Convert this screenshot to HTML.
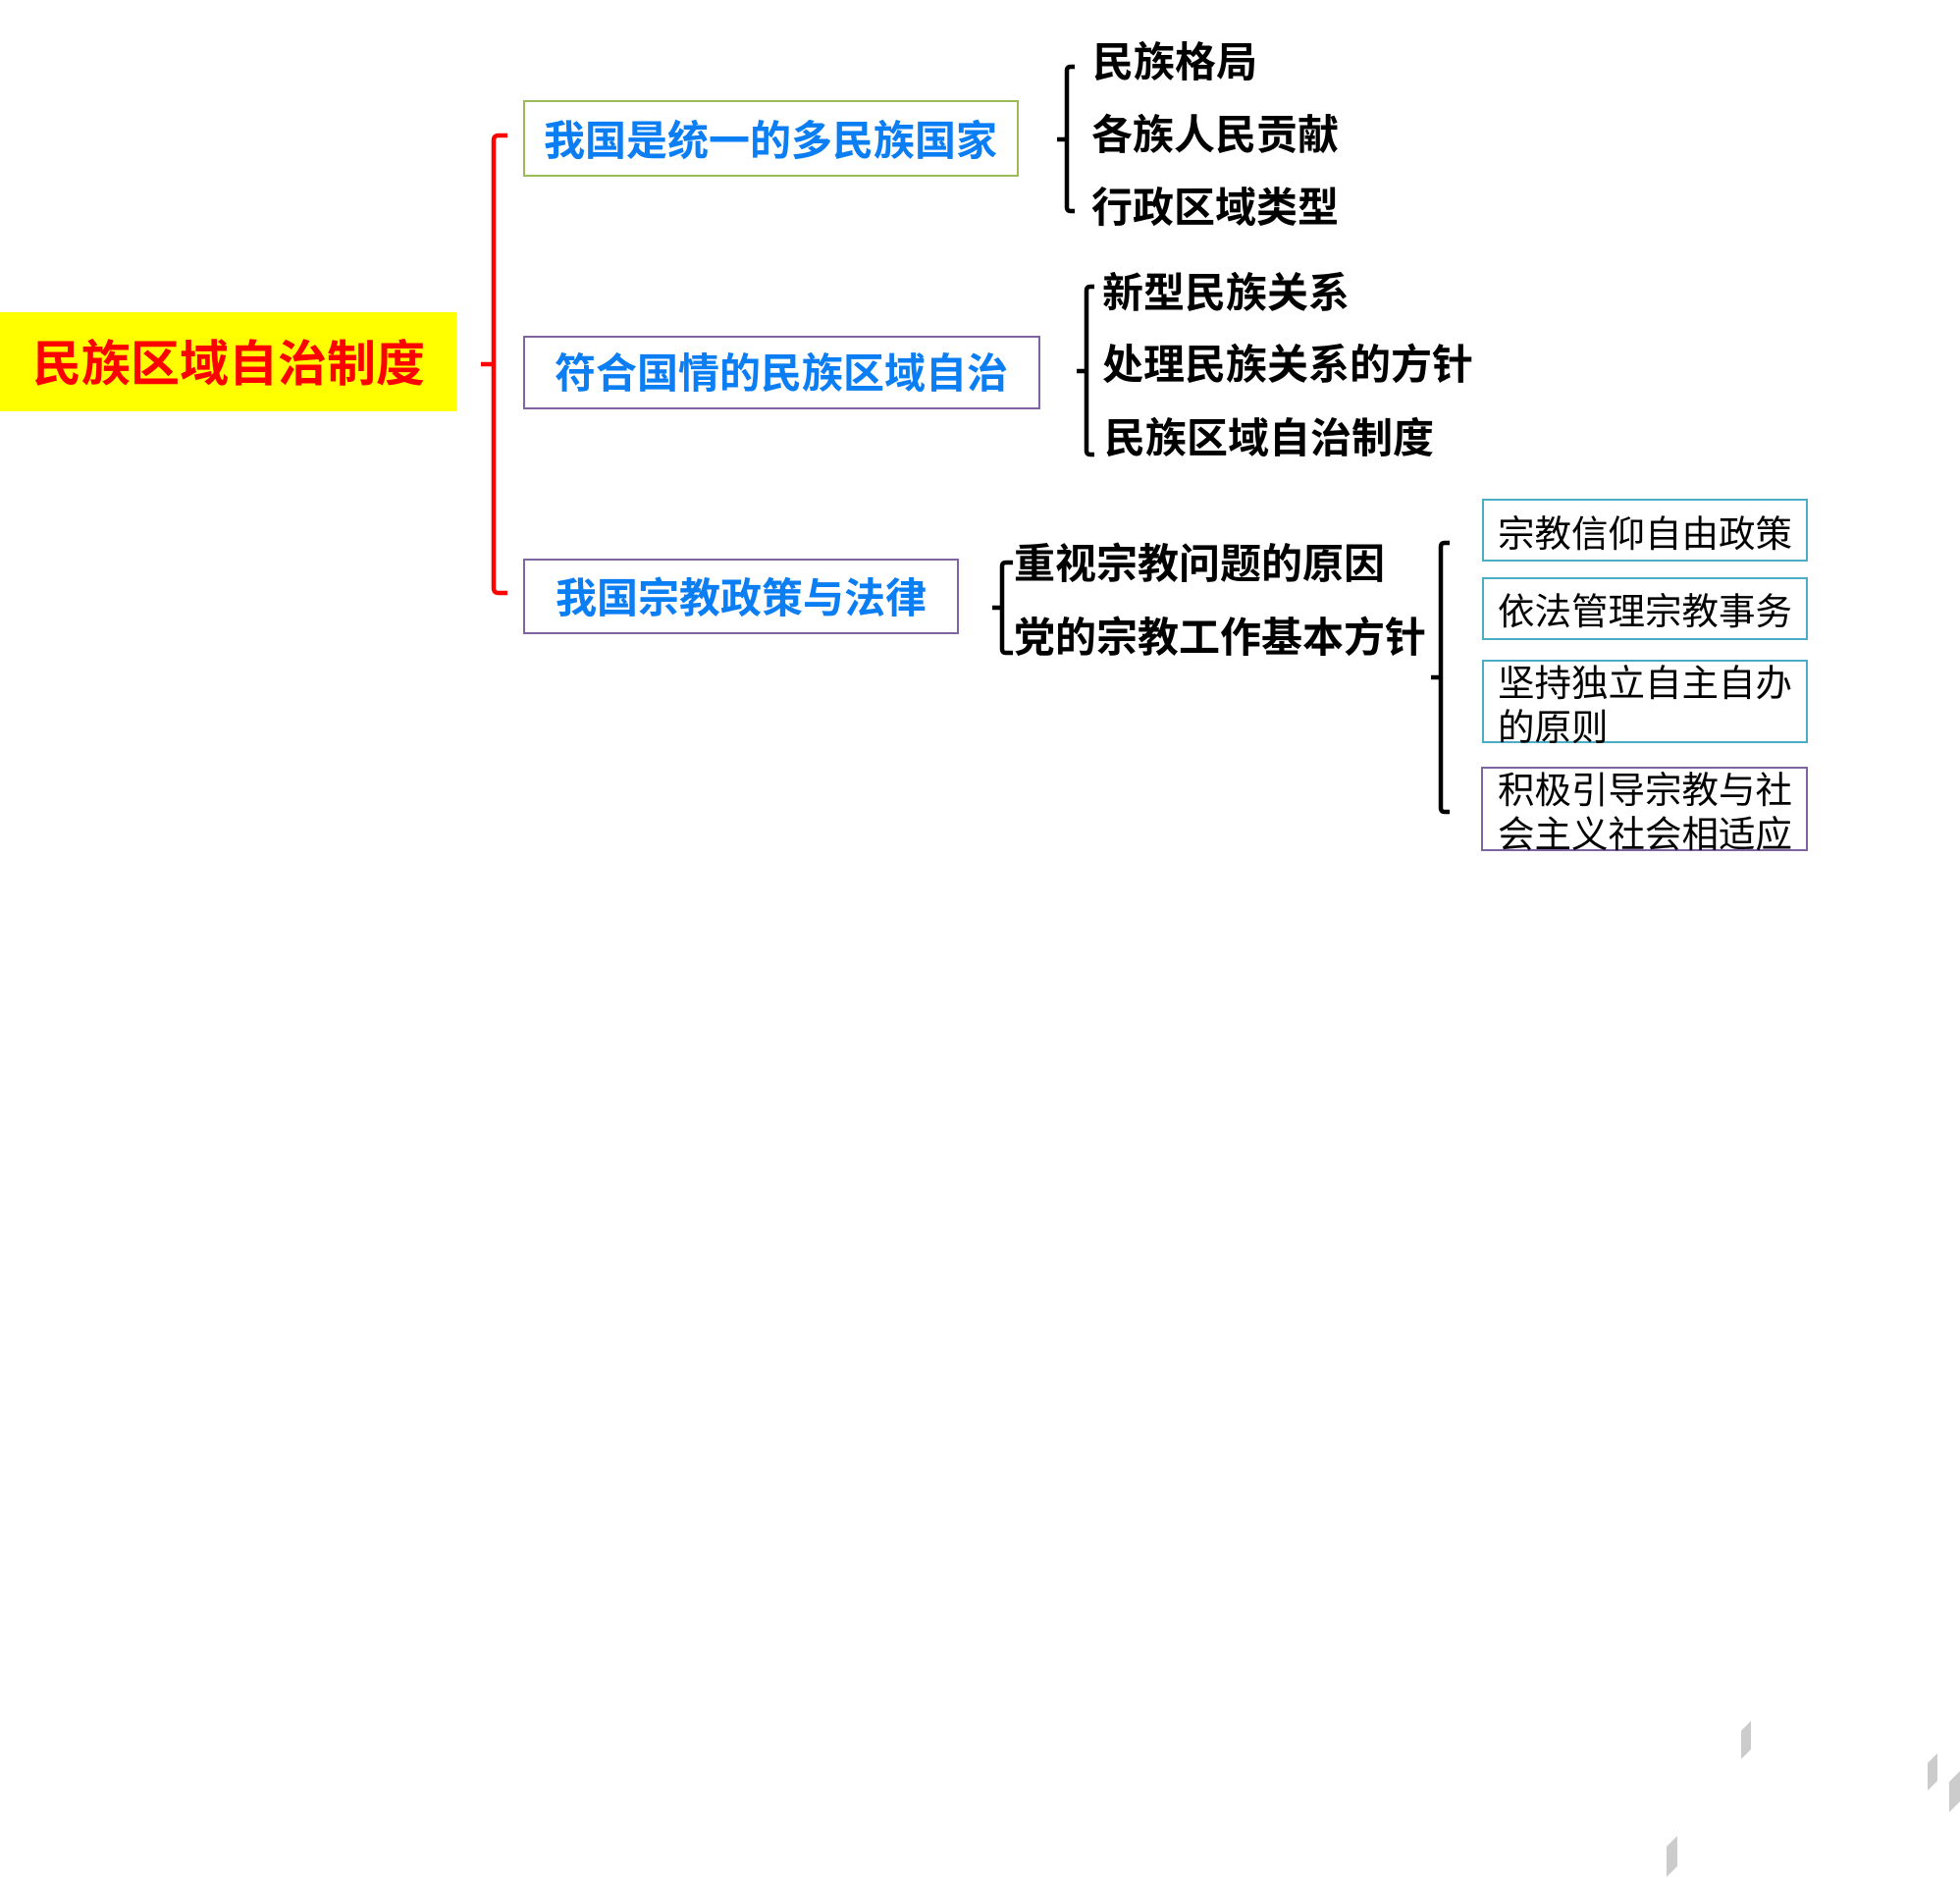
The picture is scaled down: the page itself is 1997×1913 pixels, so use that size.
<!DOCTYPE html>
<html>
<head>
<meta charset="utf-8">
<style>
  html, body { margin:0; padding:0; background:#fff; }
  body { width:1997px; height:1913px; position:relative; overflow:hidden;
         font-family:"Liberation Sans","Noto Sans CJK SC",sans-serif; }
  .t { position:absolute; white-space:nowrap; }
  .b42 { font-size:42px; line-height:42px; font-weight:700; color:#000; }
  .blue { color:#0b7ef3; font-weight:700; }
  .box { position:absolute; box-sizing:border-box; border:2px solid; background:transparent; }
  .sm { font-size:37.5px; line-height:45px; font-weight:400; color:#000; }
  svg { position:absolute; left:0; top:0; }
</style>
</head>
<body>
<div style="position:absolute;left:0;top:318px;width:465px;height:101px;background:#ffff00;"></div>
<div class="t" style="left:33px;top:346px;font-size:50px;line-height:50px;font-weight:700;color:#ff0000;">民族区域自治制度</div>

<svg width="1997" height="1913" viewBox="0 0 1997 1913">
  <g fill="none" stroke-linecap="butt" stroke-linejoin="round">
    <path d="M517,138 L508,138 Q503,138 503,143 L503,599 Q503,604 508,604 L517,604" stroke="#ff0000" stroke-width="4.5"/>
    <path d="M490,371 L503,371" stroke="#ff0000" stroke-width="4.5"/>

    <path d="M1095,68 L1091,68 Q1087,68 1087,72 L1087,211 Q1087,215 1091,215 L1095,215" stroke="#000" stroke-width="4.5"/>
    <path d="M1077,142 L1087,142" stroke="#000" stroke-width="4.5"/>

    <path d="M1115,292 L1111,292 Q1107,292 1107,296 L1107,459 Q1107,463 1111,463 L1115,463" stroke="#000" stroke-width="4.5"/>
    <path d="M1097,378 L1107,378" stroke="#000" stroke-width="4.5"/>

    <path d="M1032,573 L1025,573 Q1021,573 1021,577 L1021,661 Q1021,665 1025,665 L1032,665" stroke="#000" stroke-width="4.5"/>
    <path d="M1011,619 L1021,619" stroke="#000" stroke-width="4.5"/>

    <path d="M1477,553 L1472,553 Q1468,553 1468,557 L1468,823 Q1468,827 1472,827 L1477,827" stroke="#000" stroke-width="4.5"/>
    <path d="M1458,690 L1468,690" stroke="#000" stroke-width="4.5"/>
  </g>
  <g fill="#cccccc">
    <polygon points="1774,1763 1784,1753 1784,1782 1774,1792"/>
    <polygon points="1964,1796 1974,1786 1974,1814 1964,1824"/>
    <polygon points="1986,1815 1997,1804 1997,1835 1986,1846"/>
    <polygon points="1698,1881 1709,1870 1709,1901 1698,1912"/>
  </g>
</svg>

<div class="box" style="left:533px;top:102px;width:505px;height:78px;border-color:#9bbb59;"></div>
<div class="t blue" style="left:554px;top:123px;font-size:42px;line-height:42px;">我国是统一的多民族国家</div>

<div class="box" style="left:533px;top:342px;width:527px;height:75px;border-color:#8064a2;"></div>
<div class="t blue" style="left:565px;top:360px;font-size:42px;line-height:42px;">符合国情的民族区域自治</div>

<div class="box" style="left:533px;top:569px;width:444px;height:77px;border-color:#8064a2;"></div>
<div class="t blue" style="left:566px;top:589px;font-size:42px;line-height:42px;">我国宗教政策与法律</div>

<div class="t b42" style="left:1113px;top:43px;">民族格局</div>
<div class="t b42" style="left:1112px;top:117px;">各族人民贡献</div>
<div class="t b42" style="left:1112px;top:191px;">行政区域类型</div>

<div class="t b42" style="left:1123px;top:278px;">新型民族关系</div>
<div class="t b42" style="left:1123px;top:351px;">处理民族关系的方针</div>
<div class="t b42" style="left:1125px;top:426px;">民族区域自治制度</div>

<div class="t b42" style="left:1033px;top:554px;">重视宗教问题的原因</div>
<div class="t b42" style="left:1033px;top:629px;">党的宗教工作基本方针</div>

<div class="box" style="left:1510px;top:508px;width:332px;height:64px;border-color:#4bacc6;"></div>
<div class="t sm" style="left:1526px;top:522px;">宗教信仰自由政策</div>

<div class="box" style="left:1510px;top:588px;width:332px;height:64px;border-color:#4bacc6;"></div>
<div class="t sm" style="left:1526px;top:601px;">依法管理宗教事务</div>

<div class="box" style="left:1510px;top:672px;width:332px;height:85px;border-color:#4bacc6;"></div>
<div class="t sm" style="left:1526px;top:674px;">坚持独立自主自办<br>的原则</div>

<div class="box" style="left:1509px;top:781px;width:333px;height:86px;border-color:#8064a2;"></div>
<div class="t sm" style="left:1526px;top:783px;">积极引导宗教与社<br>会主义社会相适应</div>
</body>
</html>
